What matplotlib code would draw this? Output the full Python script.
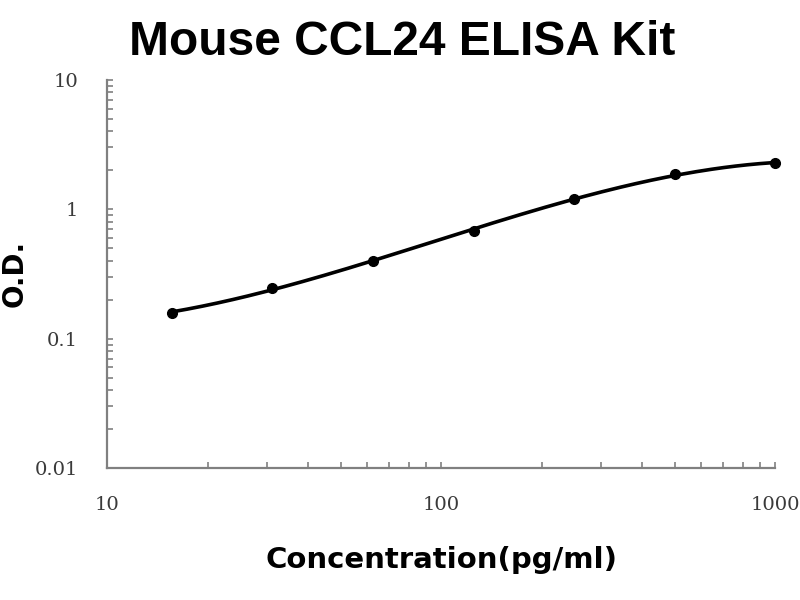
import numpy as np
import matplotlib.pyplot as plt
from matplotlib.ticker import LogLocator, NullFormatter, FixedLocator, FixedFormatter

# standard curve points
concentration = [15.625, 31.25, 62.5, 125, 250, 500, 1000]
od = [0.159, 0.245, 0.40, 0.684, 1.197, 1.867, 2.27]

x_ticks = [10, 100, 1000]
x_labels = ['10', '100', '1000']
y_ticks = [0.01, 0.1, 1, 10]
y_labels = ['0.01', '0.1', '1', '10']

tick_gray = '#808080'
label_gray = '#3a3a3a'

fig = plt.figure(figsize=(8, 6), dpi=100)
ax = fig.add_axes([0.134, 0.22, 0.835, 0.647])

# smooth fitted curve (cubic in log-log space)
lx = np.log10(concentration)
ly = np.log10(od)
coef = np.polyfit(lx, ly, 3)
xs = np.linspace(lx[0], lx[-1], 200)
ax.plot(10 ** xs, 10 ** np.polyval(coef, xs), color='black', lw=2.6, zorder=2)
ax.plot(concentration, od, 'o', color='black', ms=7, zorder=3, clip_on=False)

ax.set_xscale('log')
ax.set_yscale('log')
ax.set_xlim(10, 1000)
ax.set_ylim(0.01, 10)

for side in ['top', 'right']:
    ax.spines[side].set_visible(False)
for side in ['left', 'bottom']:
    ax.spines[side].set_color(tick_gray)
    ax.spines[side].set_linewidth(1.6)

ax.xaxis.set_major_locator(FixedLocator(x_ticks))
ax.xaxis.set_major_formatter(FixedFormatter(x_labels))
ax.yaxis.set_major_locator(FixedLocator(y_ticks))
ax.yaxis.set_major_formatter(FixedFormatter(y_labels))
ax.xaxis.set_minor_locator(LogLocator(base=10, subs=np.arange(2, 10)))
ax.yaxis.set_minor_locator(LogLocator(base=10, subs=np.arange(2, 10)))
ax.xaxis.set_minor_formatter(NullFormatter())
ax.yaxis.set_minor_formatter(NullFormatter())

ax.tick_params(which='both', direction='in', color=tick_gray, width=1.2, length=4)
ax.tick_params(axis='x', which='major', pad=20, labelsize=14, labelcolor=label_gray)
ax.tick_params(axis='y', which='major', pad=21, labelsize=14, labelcolor=label_gray)
for lab in ax.get_xticklabels() + ax.get_yticklabels():
    lab.set_family('DejaVu Serif')

fig.text(402, 600 - 55, 'Mouse CCL24 ELISA Kit', transform=None,
         ha='center', va='baseline', fontsize=34.5, fontweight='bold',
         family='Liberation Sans')

ax.set_xlabel('Concentration(pg/ml)', fontsize=21, fontweight='bold',
              family='DejaVu Sans', va='top')
ax.xaxis.set_label_coords(0.5, -0.2)
ax.set_ylabel('O.D.', fontsize=20, fontweight='bold',
              family='DejaVu Sans', va='bottom')
ax.yaxis.set_label_coords(-0.118, 0.5)

fig.savefig('out.png', dpi=100)
